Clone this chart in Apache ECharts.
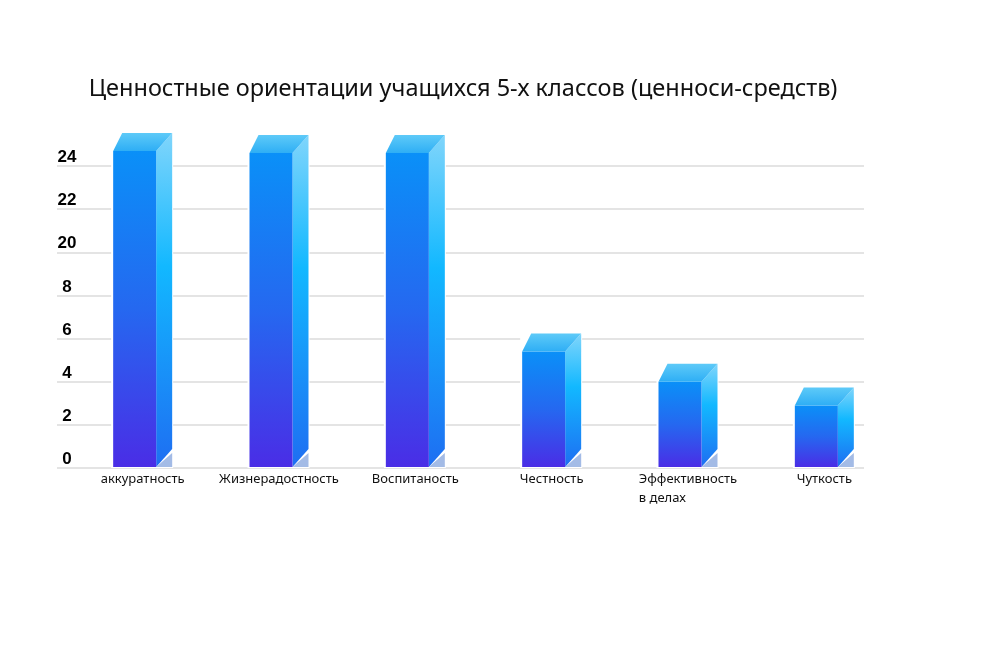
<!DOCTYPE html>
<html>
<head>
<meta charset="utf-8">
<script src="https://cdn.jsdelivr.net/npm/echarts@6/dist/echarts.min.js"></script>
<style>
html,body{margin:0;padding:0;background:#fff;}
#chart{width:1007px;height:670px;}
</style>
</head>
<body>
<div id="chart"></div>
<script>
// Data (values in axis units; the source's tick labels are printed as below)
const titleText = 'Ценностные ориентации учащихся 5-х классов (ценноси-средств)';
const categories = ['аккуратность', 'Жизнерадостность', 'Воспитаность', 'Честность', 'Эффективность\nв делах', 'Чуткость'];
const values = [14.7, 14.6, 14.6, 5.4, 4.0, 2.9];
const tickLabels = ['0', '2', '4', '6', '8', '20', '22', '24'];

const G = echarts.graphic;
const frontGrad = new G.LinearGradient(0, 0, 0, 1, [
  {offset: 0, color: '#0a90f8'}, {offset: 0.5, color: '#2568f0'}, {offset: 1, color: '#4a2de6'}
]);
const sideGrad = new G.LinearGradient(0, 0, 0, 1, [
  {offset: 0, color: '#80d5fb'}, {offset: 0.4, color: '#12b8ff'}, {offset: 1, color: '#1e6ef2'}
]);
const topGrad = new G.LinearGradient(0, 1, 0, 0, [
  {offset: 0, color: '#2eaef5'}, {offset: 1, color: '#5ecaf8'}
]);

function renderItem(params, api) {
  const c = api.coord([api.value(0), api.value(1)]);
  const b = api.coord([api.value(0), 0]);
  const fw = 43, sw = 16, dy = 18, lx = 9;
  const x0 = c[0] - 29.5, x1 = x0 + fw, x2 = x1 + sw;
  const top = c[1], bot = b[1] - 1;
  return {
    type: 'group',
    children: [
      {type: 'rect', shape: {x: x0 - 2, y: top - dy - 1, width: fw + sw + 3, height: bot - top + dy + 2}, style: {fill: '#ffffff'}},
      {type: 'polygon', shape: {points: [[x1, top], [x2, top - dy], [x2, bot - dy], [x1, bot]]}, style: {fill: sideGrad}},
      {type: 'polygon', shape: {points: [[x1, bot], [x2, bot - dy + 4], [x2, bot]]}, style: {fill: '#a3bbe6'}},
      {type: 'rect', shape: {x: x0, y: top, width: fw, height: bot - top}, style: {fill: frontGrad}},
      {type: 'polygon', shape: {points: [[x0, top], [x1, top], [x2, top - dy], [x0 + lx, top - dy]]}, style: {fill: topGrad}}
    ]
  };
}

const chart = echarts.init(document.getElementById('chart'), null, {renderer: 'canvas'});
chart.setOption({
  backgroundColor: '#ffffff',
  animation: false,
  title: {
    text: titleText,
    left: 458, top: 72, textAlign: 'center',
    textStyle: {fontFamily: 'Noto Sans', fontSize: 23.5, fontWeight: 'normal', color: '#111'}
  },
  grid: [
    {left: 57, right: 143, top: 166, bottom: 202},
    {left: 74.5, right: 114.5, top: 166, bottom: 202}
  ],
  xAxis: [
    {type: 'category', gridIndex: 0, data: categories, show: false},
    {
      type: 'category', gridIndex: 1, data: categories,
      axisLine: {show: false}, axisTick: {show: false},
      axisLabel: {
        margin: 2, color: '#111', fontFamily: 'Noto Sans', fontSize: 13, interval: 0, lineHeight: 19,
        formatter: function (v) {
          const parts = v.split('\n');
          if (parts.length > 1) return '{l|' + parts.join('}\n{l|') + '}';
          return v;
        },
        rich: {l: {align: 'left', fontFamily: 'Noto Sans', fontSize: 13, color: '#111', lineHeight: 19}}
      }
    }
  ],
  yAxis: [
    {
      type: 'value', gridIndex: 0, min: 0, max: 14, interval: 2,
      axisLine: {show: false}, axisTick: {show: false},
      splitLine: {show: true, lineStyle: {color: '#e4e4e4', width: 2}},
      axisLabel: {
        margin: -10, align: 'center', verticalAlign: 'bottom',
        color: '#000', fontFamily: 'Liberation Sans', fontWeight: 'bold', fontSize: 17,
        formatter: function (v) { return tickLabels[Math.round(v / 2)]; }
      }
    },
    {type: 'value', gridIndex: 1, min: 0, max: 14, interval: 2, show: false, splitLine: {show: false}}
  ],
  series: [{
    type: 'custom', xAxisIndex: 1, yAxisIndex: 1, clip: false,
    renderItem: renderItem,
    data: values.map((v, i) => [i, v])
  }]
});
</script>
</body>
</html>
